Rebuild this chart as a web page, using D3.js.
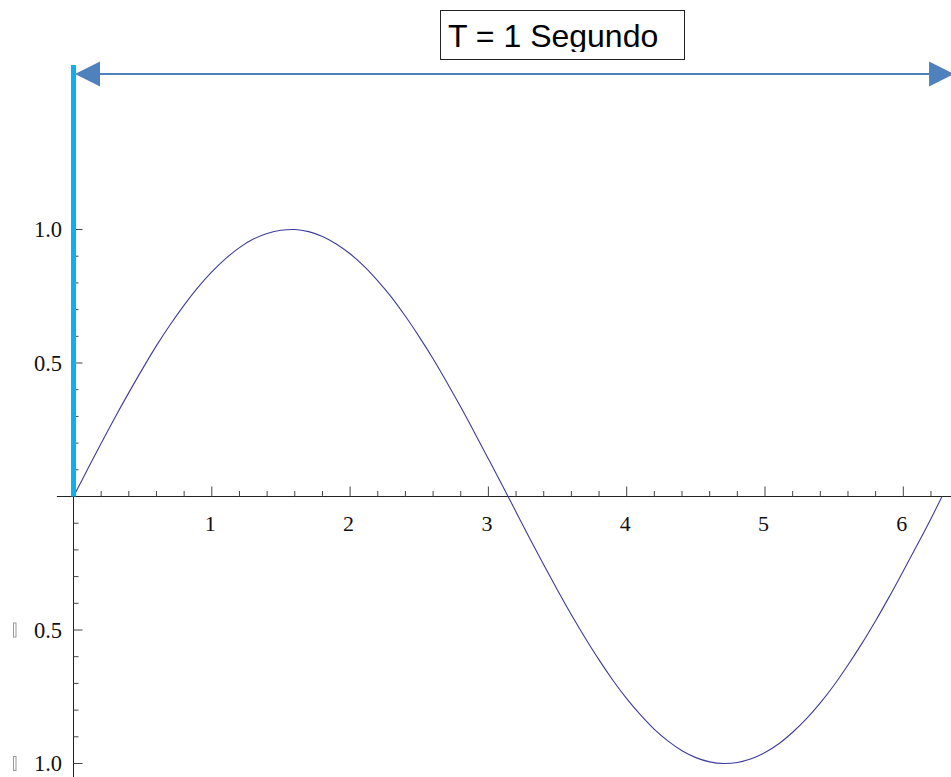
<!DOCTYPE html>
<html>
<head>
<meta charset="utf-8">
<script src="https://cdn.jsdelivr.net/npm/d3@7"></script>
<style>
  html, body { margin: 0; padding: 0; background: #fff; }
  svg { display: block; }
</style>
</head>
<body>
<svg id="chart" width="951" height="777"></svg>
<script>
// One period of the wave, sampled along t
const tValues = [0.0, 0.1, 0.2, 0.3, 0.4, 0.5, 0.6, 0.7, 0.8, 0.9,
                 1.0, 1.1, 1.2, 1.3, 1.4, 1.5, 1.6, 1.7, 1.8, 1.9,
                 2.0, 2.1, 2.2, 2.3, 2.4, 2.5, 2.6, 2.7, 2.8, 2.9,
                 3.0, 3.1, 3.2, 3.3, 3.4, 3.5, 3.6, 3.7, 3.8, 3.9,
                 4.0, 4.1, 4.2, 4.3, 4.4, 4.5, 4.6, 4.7, 4.8, 4.9,
                 5.0, 5.1, 5.2, 5.3, 5.4, 5.5, 5.6, 5.7, 5.8, 5.9,
                 6.0, 6.1, 6.2, 6.28];
const yValues = [0.000, 0.100, 0.199, 0.296, 0.389, 0.479, 0.565, 0.644, 0.717, 0.783,
                 0.841, 0.891, 0.932, 0.964, 0.985, 0.997, 1.000, 0.992, 0.974, 0.946,
                 0.909, 0.863, 0.808, 0.746, 0.675, 0.598, 0.516, 0.427, 0.335, 0.239,
                 0.141, 0.042, -0.058, -0.158, -0.256, -0.351, -0.443, -0.530, -0.612, -0.688,
                 -0.757, -0.818, -0.872, -0.916, -0.952, -0.978, -0.994, -1.000, -0.996, -0.982,
                 -0.959, -0.926, -0.883, -0.832, -0.773, -0.706, -0.631, -0.551, -0.465, -0.374,
                 -0.279, -0.182, -0.083, 0.000];

const xMajorTicks = [1, 2, 3, 4, 5, 6];
const xMinorTicks = [0.2, 0.4, 0.6, 0.8, 1.2, 1.4, 1.6, 1.8, 2.2, 2.4, 2.6, 2.8, 3.2, 3.4, 3.6, 3.8,
                     4.2, 4.4, 4.6, 4.8, 5.2, 5.4, 5.6, 5.8, 6.2];
const yMajorTicks = [1.0, 0.5, -0.5, -1.0];
const yMinorTicks = [0.9, 0.8, 0.7, 0.6, 0.4, 0.3, 0.2, 0.1, -0.1, -0.2, -0.3, -0.4, -0.6, -0.7, -0.8, -0.9];

const periodLabel = "T = 1 Segundo";
const periodSpan = [0, 6.36];   // arrow extent in t units

const svg = d3.select("#chart");

const x = d3.scaleLinear().domain([0, 6]).range([73.5, 903.3]);
const y = d3.scaleLinear().domain([-1, 1]).range([763.5, 229.5]);

const axisColor = "#222";
const tickColor = "#444";
const serif = "'Liberation Serif', 'Times New Roman', serif";

// Axes lines
svg.append("line")
  .attr("x1", x(-0.12)).attr("x2", 951)
  .attr("y1", y(0)).attr("y2", y(0))
  .attr("stroke", axisColor).attr("stroke-width", 1);
svg.append("line")
  .attr("x1", x(0)).attr("x2", x(0))
  .attr("y1", y(1.04)).attr("y2", 777)
  .attr("stroke", axisColor).attr("stroke-width", 1);

// X ticks (pointing up from the axis)
svg.append("g").selectAll("line").data(xMajorTicks).join("line")
  .attr("x1", d => x(d)).attr("x2", d => x(d))
  .attr("y1", y(0)).attr("y2", y(0) - 10)
  .attr("stroke", tickColor).attr("stroke-width", 1);
svg.append("g").selectAll("line").data(xMinorTicks).join("line")
  .attr("x1", d => x(d)).attr("x2", d => x(d))
  .attr("y1", y(0)).attr("y2", y(0) - 5.5)
  .attr("stroke", tickColor).attr("stroke-width", 1);

svg.append("g").selectAll("text").data(xMajorTicks).join("text")
  .attr("x", d => x(d) - 1.5)
  .attr("y", y(0) + 34)
  .attr("text-anchor", "middle")
  .attr("font-family", serif)
  .attr("font-size", 22)
  .attr("fill", "#111")
  .text(d => d);

// Y ticks (pointing right from the axis)
svg.append("g").selectAll("line").data(yMajorTicks).join("line")
  .attr("x1", x(0)).attr("x2", x(0) + 9)
  .attr("y1", d => y(d)).attr("y2", d => y(d))
  .attr("stroke", tickColor).attr("stroke-width", 1);
svg.append("g").selectAll("line").data(yMinorTicks).join("line")
  .attr("x1", x(0)).attr("x2", x(0) + 5)
  .attr("y1", d => y(d)).attr("y2", d => y(d))
  .attr("stroke", tickColor).attr("stroke-width", 1);

const yLabels = svg.append("g").selectAll("g").data(yMajorTicks).join("g");
yLabels.append("text")
  .attr("x", 62)
  .attr("y", d => y(d) + 7.5)
  .attr("text-anchor", "end")
  .attr("font-family", serif)
  .attr("font-size", 22.5)
  .attr("fill", "#111")
  .text(d => d3.format(".1f")(Math.abs(d)));
// the minus sign shows as an empty glyph box
yLabels.filter(d => d < 0).append("rect")
  .attr("x", 13.5).attr("y", d => y(d) - 7)
  .attr("width", 2.5).attr("height", 14)
  .attr("fill", "none").attr("stroke", "#999").attr("stroke-width", 1);

// Sine curve
const line = d3.line()
  .x((d, i) => x(tValues[i]))
  .y(d => y(d))
  .curve(d3.curveCatmullRom.alpha(0.5));
svg.append("path")
  .datum(yValues)
  .attr("d", line)
  .attr("fill", "none")
  .attr("stroke", "#3d3d99")
  .attr("stroke-width", 1.1);

// Period start marker
svg.append("line")
  .attr("x1", x(0)).attr("x2", x(0))
  .attr("y1", 65).attr("y2", y(0))
  .attr("stroke", "#0db0ee").attr("stroke-width", 5);

// Period arrow
const arrowY = 74;
const arrowColor = "#4f81bd";
const x0 = x(periodSpan[0]) + 1.5, x1 = x(periodSpan[1]) + 1;
svg.append("line")
  .attr("x1", x0 + 20).attr("x2", x1 - 20)
  .attr("y1", arrowY).attr("y2", arrowY)
  .attr("stroke", arrowColor).attr("stroke-width", 2);
svg.append("path")
  .attr("d", `M${x0},${arrowY} L${x0 + 25},${arrowY - 12.5} L${x0 + 25},${arrowY + 12.5} Z`)
  .attr("fill", arrowColor);
svg.append("path")
  .attr("d", `M${x1},${arrowY} L${x1 - 25},${arrowY - 12.5} L${x1 - 25},${arrowY + 12.5} Z`)
  .attr("fill", arrowColor);

// Period label box
svg.append("defs").append("clipPath").attr("id", "labelClip")
  .append("rect").attr("x", 440).attr("y", 10).attr("width", 245).attr("height", 42);
svg.append("rect")
  .attr("x", 440.5).attr("y", 10.5).attr("width", 244).attr("height", 49)
  .attr("fill", "#fff").attr("stroke", "#222").attr("stroke-width", 1);
svg.append("text")
  .attr("clip-path", "url(#labelClip)")
  .attr("x", 448).attr("y", 47)
  .attr("font-family", "'Liberation Sans', Arial, sans-serif")
  .attr("font-size", 32)
  .attr("fill", "#000")
  .text(periodLabel);
</script>
</body>
</html>
